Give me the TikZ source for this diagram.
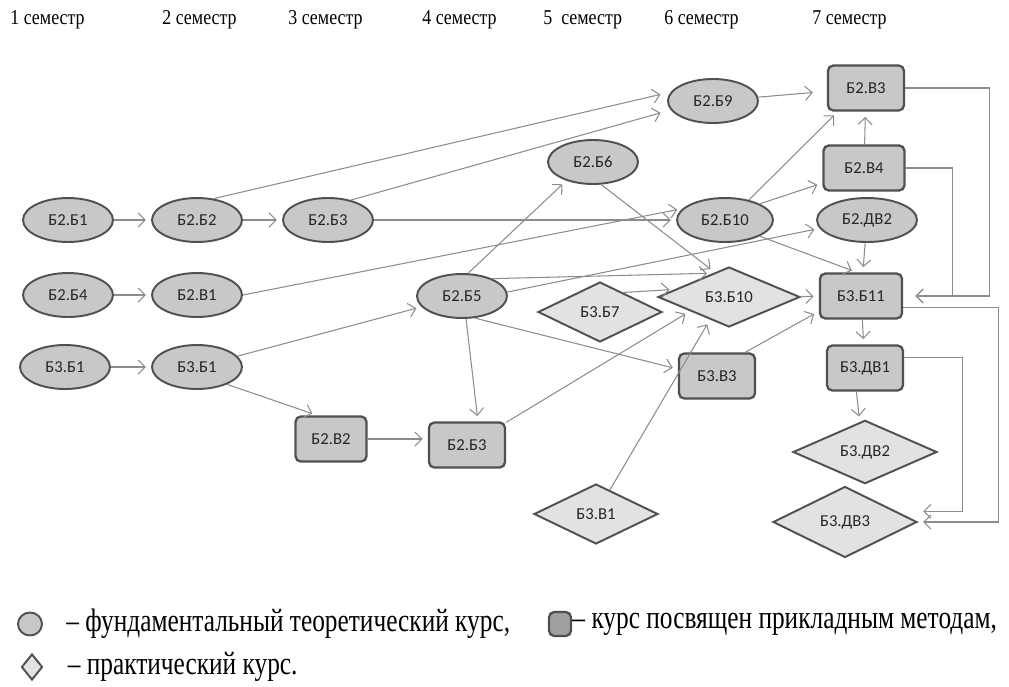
\documentclass[tikz,border=0pt]{standalone}
\usepackage{fontspec}
\setmainfont{Liberation Serif}
\newfontfamily\nodefont{Carlito}
\newfontfamily\semfont{Liberation Serif}[FakeStretch=0.85]
\newfontfamily\keyfont{Liberation Serif}[FakeStretch=0.78]
\usetikzlibrary{positioning}
\usetikzlibrary{shapes.geometric}
\usetikzlibrary{arrows.meta}
\definecolor{nodegray}{HTML}{C8C8C8}
\definecolor{diagray}{HTML}{E2E2E2}
\definecolor{edgegray}{HTML}{8C8C8C}
\definecolor{bordergray}{HTML}{505050}
\definecolor{textgray}{HTML}{262626}

\begin{document}
\begin{tikzpicture}[x=0.02cm, y=-0.02cm,
        theory/.style={ellipse, draw=bordergray, fill=nodegray, line width=1.1pt,
            minimum width=1.8cm, minimum height=0.88cm, text=textgray,
            font=\nodefont\fontsize{9.5}{10}\selectfont},
        applied/.style={rectangle, rounded corners=3pt, draw=bordergray, fill=nodegray,
            line width=1.3pt, minimum width=1.52cm, minimum height=0.9cm, text=textgray,
            font=\nodefont\fontsize{9.5}{10}\selectfont},
        practice/.style={diamond, draw=bordergray, fill=diagray, line width=1.1pt,
            minimum width=2.48cm, minimum height=1.2cm, inner sep=0pt, text=textgray,
            font=\nodefont\fontsize{9.5}{10}\selectfont},
        link/.style={draw=edgegray, line width=0.6pt, shorten >=3pt,
            -{Straight Barb[length=4pt,width=8pt]}},
        sem/.style={anchor=west, inner sep=0pt, font=\semfont\fontsize{12}{14}\selectfont},
        keytext/.style={anchor=west, inner sep=0pt, font=\keyfont\fontsize{18.5}{20}\selectfont}]

    \useasboundingbox (0,0) rectangle (1009,687);

    % semesters
    \node[sem] (s1) at (10,20) {1 семестр};
    \node[sem] (s2) at (162,20) {2 семестр};
    \node[sem] (s3) at (288,20) {3 семестр};
    \node[sem] (s4) at (422,20) {4 семестр};
    \node[sem] (s5) at (543,20) {5\ \ семестр};
    \node[sem] (s6) at (664,20) {6 семестр};
    \node[sem] (s7) at (812,20) {7 семестр};

    % courses
    \node[theory] (b2b1) at (68,220) {Б2.Б1};
    \node[theory] (b2b2) at (197,220) {Б2.Б2};
    \node[theory] (b2b3) at (328,220) {Б2.Б3};
    \node[theory] (b2b4) at (68,295) {Б2.Б4};
    \node[theory] (b2v1) at (197,295) {Б2.В1};
    \node[theory] (b3b1a) at (65,367) {Б3.Б1};
    \node[theory] (b3b1b) at (197,367) {Б3.Б1};
    \node[theory] (b2b5) at (462,296) {Б2.Б5};
    \node[theory] (b2b6) at (593,162) {Б2.Б6};
    \node[theory] (b2b9) at (713,101) {Б2.Б9};
    \node[theory, minimum width=1.92cm] (b2b10) at (725,220) {Б2.Б10};
    \node[theory, minimum width=2cm] (b2dv2) at (867,220) {Б2.ДВ2};

    \node[applied] (b2v3) at (866,88) {Б2.В3};
    \node[applied, minimum width=1.62cm] (b2v4) at (864,168) {Б2.В4};
    \node[applied, minimum width=1.64cm] (b3b11) at (861,296) {Б3.Б11};
    \node[applied] (b3dv1) at (865,368) {Б3.ДВ1};
    \node[applied] (b3v3) at (717,376) {Б3.В3};
    \node[applied, minimum width=1.42cm] (b2v2) at (331,439) {Б2.В2};
    \node[applied] (b2b3r) at (467,445) {Б2.Б3};

    \node[practice] (b3b7) at (600,312) {Б3.Б7};
    \node[practice, minimum width=2.84cm] (b3b10) at (729,297) {Б3.Б10};
    \node[practice] (b3v1) at (596,514) {Б3.В1};
    \node[practice, minimum width=2.88cm] (b3dv2) at (865,452) {Б3.ДВ2};
    \node[practice, minimum width=2.88cm, minimum height=1.42cm] (b3dv3) at (845,522) {Б3.ДВ3};

    % links
    \draw[link] (b2b1) -- (b2b2);
    \draw[link] (b2b2) -- (b2b3);
    \draw[link] (b2b4) -- (b2v1);
    \draw[link] (b3b1a) -- (b3b1b);
    \draw[link, shorten >=6pt] (b2b2.52) -- (b2b9.168);
    \draw[link, shorten >=6pt] (b2b3.41) -- (b2b9.192);
    \draw[link, shorten >=8pt] (b2b9) -- (b2v3);
    \draw[link] (b2b3) -- (b2b10);
    \draw[link] (b2v1.east) -- (b2b10.165);
    \draw[link] (b3b1b) -- (b2b5);
    \draw[link] (b3b1b.-30) -- (b2v2.120);
    \draw[link] (b2v2.east) -- (b2v2.east -| b2b3r.west);
    \draw[link] (b2b5.75) -- (b2b6.215);
    \draw[link] (b2b6.-70) -- (b3b10.120);
    \draw[link] (b2b5.30) -- (b3b10.125);
    \draw[link] (b2b5.5) -- (b2dv2.190);
    \draw[link] (b2b5.-60) -- (b3v3.170);
    \draw[link] (b2b5.-80) -- (b2b3r.65);
    \draw[link] (b3b7.40) -- (b3b10.172);
    \draw[link] (b2b3r.30) -- (b3b10.200);
    \draw[link] (b3v1.60) -- (b3b10.230);
    \draw[link] (b3b10) -- (b3b11);
    \draw[link] (b3v3.40) -- (b3b11.200);
    \draw[link] (b2b10.40) -- (b2v3.220);
    \draw[link] (b2b10.25) -- (b2v4.200);
    \draw[link] (b2b10.-25) -- (b3b11.100);
    \draw[link] (b2dv2) -- (b3b11);
    \draw[link] (b2v4) -- (b2v3);
    \draw[link, shorten >=7pt] (b2v3.east) -- ++(84,0) |- (b3b11.east);
    \draw[link, shorten >=7pt] (b2v4.east) -- ++(47,0) |- (b3b11.east);
    \draw[link] (b3b11) -- (b3dv1);
    \draw[link] (b3dv1.250) -- (b3dv2.100);
    \draw[link] (b3dv1.15) -- ++(58,0) |- ([yshift=6pt]b3dv3.east);
    \draw[link] (b3b11.-15) -- ++(95,0) |- (b3dv3.east);

    % legend
    \node[theory, minimum width=0.48cm, minimum height=0.46cm] (keytheory) at (30,624) {};
    \node[keytext, right=0.46cm of keytheory] (keytheorytext) {– фундаментальный теоретический курс,};
    \node[applied, minimum width=0.44cm, minimum height=0.48cm, fill=gray!75] (keyapplied) at (560,624) {};
    \node[keytext, right=0cm of keyapplied] (keyappliedtext) {– курс посвящен прикладным методам,};
    \node[practice, minimum width=0.42cm, minimum height=0.52cm] (keypractice) at (32,667) {};
    \node[keytext, right=0.48cm of keypractice] (keypracticetext) {– практический курс.};
\end{tikzpicture}
\end{document}
